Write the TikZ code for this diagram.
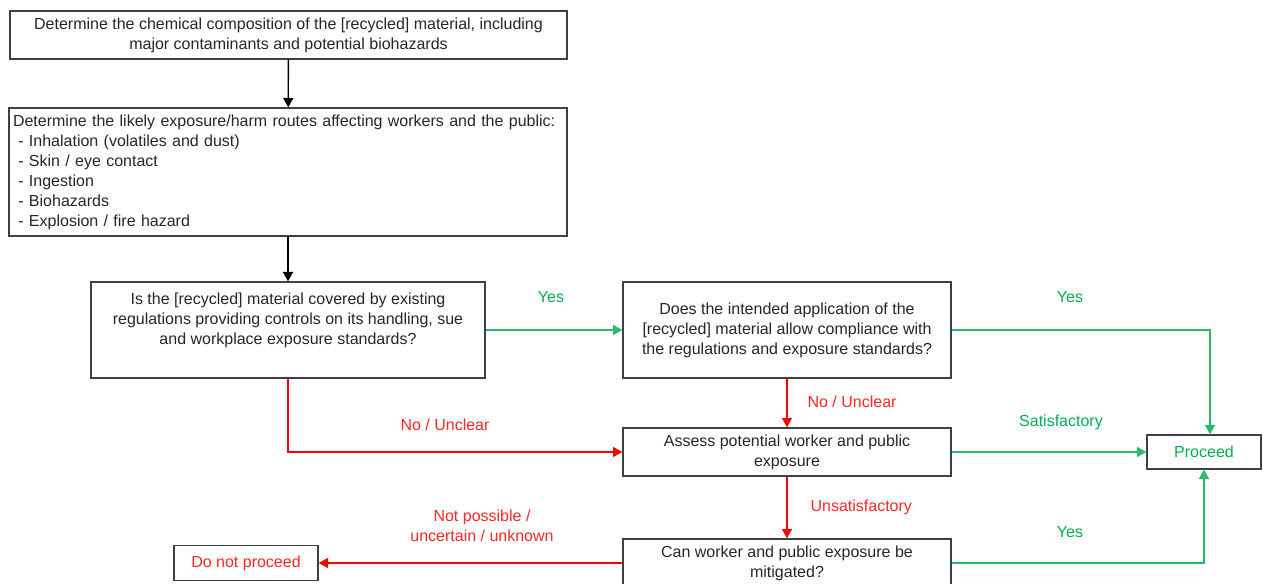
\documentclass[tikz,border=0pt]{standalone}
\usepackage{fontspec}
\setmainfont{Liberation Sans}
\usetikzlibrary{arrows.meta}
\definecolor{okgreen}{HTML}{00B050}
\definecolor{nored}{HTML}{FF0000}

\begin{document}
\begin{tikzpicture}[x=0.75pt, y=-0.75pt,
  font=\fontsize{12}{15}\selectfont,
  box/.style={draw=black!75, line width=1pt, text=black!85, align=center, inner sep=3pt},
  tip/.style={-{Triangle[length=7pt,width=7.5pt]}, line width=1pt},
  flow/.style={tip, black},
  yes/.style={tip, okgreen!85!white},
  no/.style={tip, nored},
  lblg/.style={text=okgreen, inner sep=1pt},
  lblr/.style={text=nored!85!white, inner sep=1pt, align=center}]
  \useasboundingbox (0,0) rectangle (1263,584);
  % boxes
  \node[box, minimum width=417.75pt, minimum height=36pt] (comp) at (288.5,35)
    {Determine the chemical composition of the [recycled] material, including\\major contaminants and potential biohazards};
  \node[box, minimum height=96pt, text width=412.5pt, align=left] (routes) at (288,172)
    {Determine the likely exposure/harm routes affecting workers and the public:\\
     \ - Inhalation (volatiles and dust)\\
     \ - Skin / eye contact\\
     \ - Ingestion\\
     \ - Biohazards\\
     \ - Explosion / fire hazard};
  \node[box, minimum width=295.5pt, minimum height=72pt] (covered) at (288,330)
    {Is the [recycled] material covered by existing\\regulations providing controls on its handling, sue\\and workplace exposure standards?\\[2pt]\mbox{}};
  \node[box, minimum width=246pt, minimum height=72pt] (comply) at (787,330)
    {Does the intended application of the\\{}[recycled] material allow compliance with\\the regulations and exposure standards?};
  \node[box, minimum width=246pt, minimum height=36pt] (assess) at (787,452)
    {Assess potential worker and public\\exposure};
  \node[box, minimum width=246pt, minimum height=36pt] (mitig) at (787,563)
    {Can worker and public exposure be\\mitigated?};
  \node[box, text=okgreen, minimum width=85.5pt, minimum height=25.5pt] (proceed) at (1204,452) {Proceed};
  \node[box, text=nored!85!white, minimum width=108pt, minimum height=26.25pt] (stop) at (246,563) {Do not proceed};
  % connectors
  \draw[flow] (comp) -- (routes);
  \draw[flow] (routes) -- (covered);
  \draw[yes] (covered) -- (comply);
  \draw[yes] (comply.east) -| ([xshift=4.5pt]proceed.north);
  \draw[no] (covered.south) |- (assess.west);
  \draw[no] (comply) -- (assess);
  \draw[yes] (assess) -- (proceed);
  \draw[no] (assess) -- (mitig);
  \draw[yes] (mitig.east) -| (proceed.south);
  \draw[no] (mitig.west) -- (stop.east);
  % labels
  \node[lblg] (yes1) at (551,297) {Yes};
  \node[lblg] (yes2) at (1070,297) {Yes};
  \node[lblg] (sat) at (1061,422) {Satisfactory};
  \node[lblg] (yes3) at (1070,532) {Yes};
  \node[lblr] (unc1) at (445,425) {No / Unclear};
  \node[lblr, anchor=west] (unc2) at (806,402) {No / Unclear};
  \node[lblr, anchor=west] (unsat) at (809,507) {Unsatisfactory};
  \node[lblr] (notpos) at (482,526) {Not possible /\\uncertain / unknown};
\end{tikzpicture}
\end{document}
